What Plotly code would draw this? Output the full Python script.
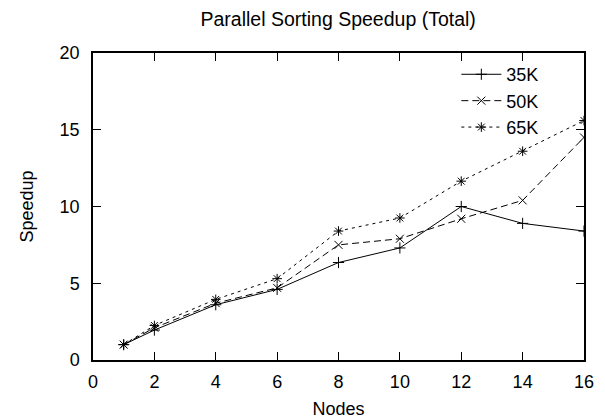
import plotly.graph_objects as go

nodes = [1, 2, 4, 6, 8, 10, 12, 14, 16]
speedup_35k = [1.0, 1.95, 3.6, 4.6, 6.35, 7.3, 10.0, 8.9, 8.4]
speedup_50k = [1.0, 2.1, 3.7, 4.7, 7.5, 7.9, 9.2, 10.4, 14.5]
speedup_65k = [1.0, 2.25, 3.95, 5.3, 8.4, 9.25, 11.65, 13.6, 15.6]
series_names = ["35K", "50K", "65K"]
x_ticks = [0, 2, 4, 6, 8, 10, 12, 14, 16]
y_ticks = [0, 5, 10, 15, 20]

FONT = "Liberation Sans, Arial, sans-serif"

fig = go.Figure()
styles = [
    (speedup_35k, "solid", "cross-thin-open"),
    (speedup_50k, "7px,4px", "x-thin-open"),
    (speedup_65k, "3px,4px", "asterisk-open"),
]
for name, (vals, dash, sym) in zip(series_names, styles):
    fig.add_trace(go.Scatter(
        x=nodes, y=vals, name=name, mode="lines+markers",
        line=dict(color="black", width=1, dash=dash),
        marker=dict(symbol=sym, size=8, color="black",
                    line=dict(color="black", width=1)),
    ))

axis_common = dict(
    showgrid=False, zeroline=False, showline=True, linecolor="black",
    linewidth=1.5, mirror="ticks", ticks="inside", ticklen=8,
    tickcolor="black", tickwidth=1, automargin=False,
    tickfont=dict(family=FONT, size=18, color="black"),
)

fig.update_layout(
    width=605, height=419,
    margin=dict(l=93, r=21, t=53, b=59),
    paper_bgcolor="white", plot_bgcolor="white",
    title=dict(text="Parallel Sorting Speedup (Total)", x=0.559, xanchor="center",
               y=0.955, yanchor="middle",
               font=dict(family=FONT, size=19.5, color="black")),
    xaxis=dict(range=[0, 16], tickvals=x_ticks, ticklabelstandoff=5,
               title=dict(text="Nodes", standoff=12,
                          font=dict(family=FONT, size=18, color="black")),
               **axis_common),
    yaxis=dict(range=[0, 20], tickvals=y_ticks, ticklabelstandoff=8,
               title=dict(text="Speedup", standoff=21,
                          font=dict(family=FONT, size=18, color="black")),
               **axis_common),
    legend=dict(x=0.74, y=0.99, xanchor="left", yanchor="top",
                bgcolor="rgba(0,0,0,0)", borderwidth=0,
                font=dict(family=FONT, size=18, color="black"),
                itemwidth=40, tracegroupgap=0),
)

fig.write_html("out.html")
